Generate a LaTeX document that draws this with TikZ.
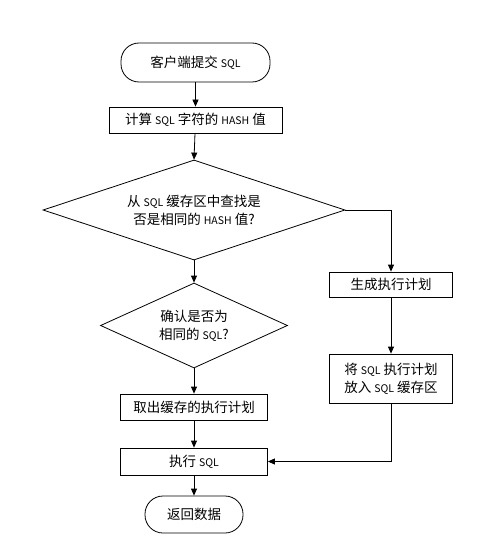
\documentclass[tikz,border=0pt]{standalone}
\usepackage{fontspec}
\setmainfont{Noto Sans CJK SC}
\usetikzlibrary{shapes.geometric,arrows.meta}
\newcommand{\en}[1]{{\fontsize{10.5}{12}\selectfont #1}}
\begin{document}
\begin{tikzpicture}[x=1pt,y=-1pt,
  every node/.style={font=\fontsize{13.5}{18}\selectfont, inner sep=0pt, align=center},
  box/.style={draw, line width=0.8pt, rectangle, minimum width=#1},
  term/.style={draw, line width=0.8pt, rectangle, rounded corners=18pt},
  dec/.style={draw, line width=0.8pt, diamond, shape aspect=#1},
  conn/.style={line width=0.8pt, -{Triangle[length=7pt,width=6pt]}},
  plain/.style={line width=0.8pt}]
\useasboundingbox (0,0) rectangle (487,540);
\node[term, minimum width=149pt, minimum height=39pt] (start) at (195.5,62.5) {客户端提交 \en{SQL}};
\node[box=173pt, minimum height=26pt] (hash) at (195.5,120) {计算 \en{SQL} 字符的 \en{HASH} 值};
\node[dec=3.2, minimum width=302pt, minimum height=100pt] (d1) at (194,210) {从 \en{SQL} 缓存区中查找是\\否是相同的 \en{HASH} 值?};
\node[dec=2.2, minimum width=187pt, minimum height=85pt] (d2) at (194,325.5) {确认是否为\\相同的 \en{SQL}?};
\node[box=123pt, minimum height=25pt] (gen) at (391,284.5) {生成执行计划};
\node[box=123pt, minimum height=49pt] (put) at (391,378.5) {将 \en{SQL} 执行计划\\放入 \en{SQL} 缓存区};
\node[box=147pt, minimum height=26pt] (fetch) at (194,407) {取出缓存的执行计划};
\node[box=147pt, minimum height=27pt] (exec) at (194,461.5) {执行 \en{SQL}};
\node[term, minimum width=98pt, minimum height=37pt] (end) at (194,514.5) {返回数据};
\draw[conn] (start) -- (hash);
\draw[conn] (hash) -- (d1.north);
\draw[conn] (d1.south) -- (d2.north);
\draw[conn] (d2.south) -- (fetch);
\draw[conn] (fetch) -- (exec);
\draw[conn] (exec) -- (end);
\draw[conn] (d1.east) -| (gen.north);
\draw[conn] (gen) -- (put);
\draw[conn] (put.south) |- (exec.east);
\end{tikzpicture}
\end{document}
